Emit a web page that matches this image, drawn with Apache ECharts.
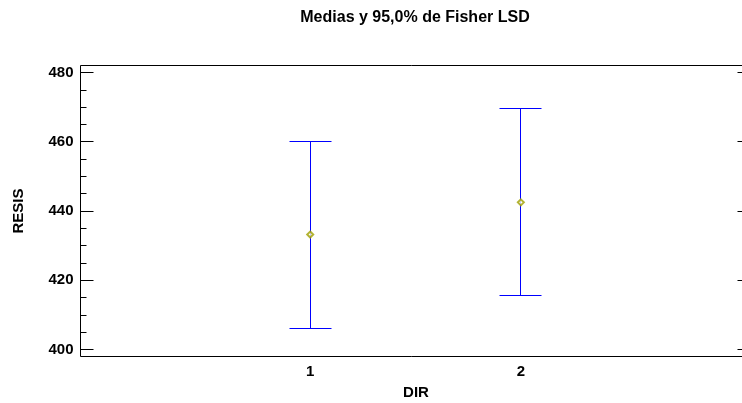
<!DOCTYPE html>
<html>
<head>
<meta charset="utf-8">
<script src="https://cdn.jsdelivr.net/npm/echarts@6/dist/echarts.min.js"></script>
<style>
html,body{margin:0;padding:0;background:#fff;}
#main{width:742px;height:403px;}
</style>
</head>
<body>
<div id="main"></div>
<script>
var categories = [1, 2];
var categoryLabels = ['1', '2'];
var means = [433.2, 442.5];
var lowerLimits = [406.2, 415.6];
var upperLimits = [460.2, 469.6];
var yTicks = [400, 420, 440, 460, 480];
var yMinorTicks = [405, 410, 415, 425, 430, 435, 445, 450, 455, 465, 470, 475];

var FONT = 'Liberation Sans, Arial, sans-serif';
var chart = echarts.init(document.getElementById('main'), null, {renderer: 'canvas'});

var barData = categories.map(function (c, i) { return [c, lowerLimits[i], upperLimits[i]]; });
var meanData = categories.map(function (c, i) { return [c, means[i]]; });

var XMIN = -0.0905, XMAX = 3.057, YMIN = 398, YMAX = 482;

var option = {
  animation: false,
  backgroundColor: '#fff',
  title: {
    text: 'Medias y 95,0% de Fisher LSD',
    left: 410, top: 5, textAlign: 'center',
    textStyle: {fontFamily: FONT, fontSize: 16, fontWeight: 'bold', color: '#000'}
  },
  grid: {left: 80.5, top: 65.5, width: 663, height: 291, containLabel: false,
         outerBoundsMode: 'none',
         show: true, borderColor: '#000', borderWidth: 1, backgroundColor: 'transparent'},
  xAxis: [{
    type: 'value', position: 'bottom', min: XMIN, max: XMAX,
    axisLine: {show: false, onZero: false},
    axisTick: {show: false}, splitLine: {show: false},
    axisLabel: {
      customValues: categories,
      formatter: function (v) { var i = categories.indexOf(v); return i >= 0 ? categoryLabels[i] : ''; },
      fontFamily: FONT, fontSize: 15, fontWeight: 'bold', color: '#000', margin: 8
    },
    name: 'DIR', nameLocation: 'middle', nameGap: 29,
    nameTextStyle: {fontFamily: FONT, fontSize: 15, fontWeight: 'bold', color: '#000', padding: [0, 0, 0, 8]}
  }],
  yAxis: [{
    type: 'value', position: 'left', min: YMIN, max: YMAX,
    axisLine: {show: false, onZero: false},
    axisTick: {show: true, inside: true, length: 13, customValues: yTicks, lineStyle: {color: '#000'}},
    axisLabel: {customValues: yTicks, fontFamily: FONT, fontSize: 15, fontWeight: 'bold', color: '#000', margin: 7},
    splitLine: {show: false},
    name: 'RESIS', nameLocation: 'middle', nameGap: 54, nameRotate: 90,
    nameTextStyle: {fontFamily: FONT, fontSize: 15, fontWeight: 'bold', color: '#000'}
  }, {
    type: 'value', position: 'left', min: YMIN, max: YMAX,
    axisLine: {show: false, onZero: false},
    axisTick: {show: true, inside: true, length: 6, customValues: yMinorTicks, lineStyle: {color: '#000'}},
    axisLabel: {show: false}, splitLine: {show: false}
  }, {
    type: 'value', position: 'right', min: YMIN, max: YMAX,
    axisLine: {show: false, onZero: false},
    axisTick: {show: true, inside: true, length: 6, customValues: yTicks, lineStyle: {color: '#000'}},
    axisLabel: {show: false}, splitLine: {show: false}
  }],
  series: [{
    type: 'custom',
    xAxisIndex: 0, yAxisIndex: 0,
    data: barData,
    renderItem: function (params, api) {
      var x = api.value(0);
      var lo = api.coord([x, api.value(1)]);
      var hi = api.coord([x, api.value(2)]);
      var cx = Math.floor(lo[0]) + 0.5;
      var yl = Math.floor(lo[1]) + 0.5;
      var yh = Math.floor(hi[1]) + 0.5;
      var half = 21;
      return {
        type: 'group',
        children: [
          {type: 'line', shape: {x1: cx, y1: yh, x2: cx, y2: yl}, style: {stroke: '#0000ff', lineWidth: 1}},
          {type: 'line', shape: {x1: cx - half, y1: yh, x2: cx + half, y2: yh}, style: {stroke: '#0000ff', lineWidth: 1}},
          {type: 'line', shape: {x1: cx - half, y1: yl, x2: cx + half, y2: yl}, style: {stroke: '#0000ff', lineWidth: 1}}
        ]
      };
    },
    z: 2
  }, {
    type: 'scatter',
    xAxisIndex: 0, yAxisIndex: 0,
    data: meanData,
    symbol: 'emptyDiamond', symbolSize: 6,
    itemStyle: {color: '#a0a000', borderColor: '#a0a000', borderWidth: 1},
    z: 3
  }]
};
chart.setOption(option);
</script>
</body>
</html>
